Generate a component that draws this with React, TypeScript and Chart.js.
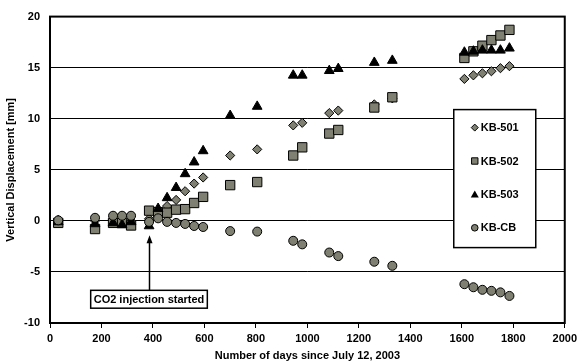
import React, { useEffect, useRef } from 'react';
import { Chart, registerables } from 'chart.js';

Chart.register(...registerables);

// Days since July 12, 2003
const days = [32, 175, 245, 280, 315, 385, 420, 455, 490, 525, 560, 595, 700, 805, 945, 980, 1085, 1120, 1260, 1330, 1610, 1645, 1680, 1715, 1750, 1785];
const kb501 = [0.1, 0.0, 0.1, 0.1, 0.0, 0.2, 0.6, 1.45, 2.05, 2.9, 3.65, 4.25, 6.4, 7.0, 9.35, 9.6, 10.55, 10.8, 11.4, 12.0, 13.9, 14.25, 14.45, 14.65, 14.95, 15.15];
const kb502 = [-0.2, -0.8, -0.2, -0.2, -0.45, 1.0, 0.85, 0.8, 1.1, 1.15, 1.75, 2.35, 3.5, 3.8, 6.4, 7.2, 8.55, 8.9, 11.1, 12.1, 15.95, 16.6, 17.15, 17.7, 18.15, 18.7];
const kb503 = [-0.1, -0.3, -0.2, -0.4, -0.1, -0.5, 1.2, 2.25, 3.25, 4.6, 5.75, 6.85, 10.3, 11.2, 14.25, 14.25, 14.7, 14.9, 15.5, 15.7, 16.5, 16.6, 16.7, 16.7, 16.7, 16.9];
const kbcb = [0.05, 0.3, 0.5, 0.5, 0.5, -0.1, 0.25, -0.1, -0.2, -0.3, -0.5, -0.6, -1.0, -1.05, -1.95, -2.3, -3.1, -3.45, -4.0, -4.4, -6.2, -6.5, -6.75, -6.85, -7.0, -7.35];

const seriesNames = ['KB-501', 'KB-502', 'KB-503', 'KB-CB'];
const injectionDay = 385;
const injectionLabel = 'CO2 injection started';
const xTitle = 'Number of days since July 12, 2003';
const yTitle = 'Vertical Displacement [mm]';

const GRAY = '#808072';
const FONT = "'Liberation Sans', Arial, sans-serif";

function drawMarker(ctx: CanvasRenderingContext2D, kind: string, x: number, y: number, r: number) {
  ctx.beginPath();
  if (kind === 'diamond') {
    ctx.moveTo(x, y - r); ctx.lineTo(x + r, y); ctx.lineTo(x, y + r); ctx.lineTo(x - r, y); ctx.closePath();
    ctx.fillStyle = GRAY; ctx.fill(); ctx.lineWidth = 1; ctx.strokeStyle = '#000'; ctx.stroke();
  } else if (kind === 'square') {
    ctx.rect(x - r, y - r, 2 * r, 2 * r);
    ctx.fillStyle = GRAY; ctx.fill(); ctx.lineWidth = 1; ctx.strokeStyle = '#000'; ctx.stroke();
  } else if (kind === 'triangle') {
    ctx.moveTo(x, y - r); ctx.lineTo(x + r, y + r * 0.8); ctx.lineTo(x - r, y + r * 0.8); ctx.closePath();
    ctx.fillStyle = '#000'; ctx.fill();
  } else {
    ctx.arc(x, y, r, 0, Math.PI * 2);
    ctx.fillStyle = GRAY; ctx.fill(); ctx.lineWidth = 1; ctx.strokeStyle = '#000'; ctx.stroke();
  }
}

const overlayPlugin = {
  id: 'overlay',
  beforeDatasetsDraw(chart: any) {
    const { ctx, chartArea: a } = chart;
    ctx.save();
    ctx.strokeStyle = '#000';
    ctx.lineWidth = 2;
    ctx.strokeRect(a.left, a.top, a.right - a.left, a.bottom - a.top);
    ctx.restore();
  },
  afterDatasetsDraw(chart: any) {
    const { ctx, chartArea: a, scales } = chart;
    ctx.save();
    // Legend box
    const lx = a.right - 111;
    const ly = a.top + 93;
    const lw = 82;
    const lh = 138;
    ctx.fillStyle = '#fff';
    ctx.fillRect(lx, ly, lw, lh);
    ctx.strokeStyle = '#000';
    ctx.lineWidth = 1.5;
    ctx.strokeRect(lx, ly, lw, lh);
    const kinds = ['diamond', 'square', 'triangle', 'circle'];
    const sizes = [3.5, 3.2, 4, 3.3];
    ctx.font = `bold 11px ${FONT}`;
    ctx.textBaseline = 'middle';
    ctx.textAlign = 'left';
    seriesNames.forEach((name, i) => {
      const cy = ly + 18 + i * 33.4;
      drawMarker(ctx, kinds[i], lx + 21, cy, sizes[i]);
      ctx.fillStyle = '#000';
      ctx.fillText(name, lx + 27, cy + 0.5);
    });

    // Annotation arrow + box
    const ax = Math.round(scales.x.getPixelForValue(injectionDay)) + 0.5;
    const tipY = scales.y.getPixelForValue(-1.4);
    const boxTop = scales.y.getPixelForValue(-6.8);
    const boxBot = scales.y.getPixelForValue(-8.55);
    ctx.strokeStyle = '#000';
    ctx.lineWidth = 1.5;
    ctx.beginPath();
    ctx.moveTo(ax, boxTop);
    ctx.lineTo(ax, tipY + 4);
    ctx.stroke();
    ctx.beginPath();
    ctx.moveTo(ax, tipY);
    ctx.lineTo(ax + 3, tipY + 8);
    ctx.lineTo(ax - 3, tipY + 8);
    ctx.closePath();
    ctx.fillStyle = '#000';
    ctx.fill();
    ctx.font = `bold 11px ${FONT}`;
    const tw = ctx.measureText(injectionLabel).width;
    const bw = tw + 6;
    const bx = ax - 0.5 - bw / 2;
    ctx.fillStyle = '#fff';
    ctx.fillRect(bx, boxTop, bw, boxBot - boxTop);
    ctx.lineWidth = 1.5;
    ctx.strokeRect(bx, boxTop, bw, boxBot - boxTop);
    ctx.fillStyle = '#000';
    ctx.textAlign = 'center';
    ctx.textBaseline = 'middle';
    ctx.fillText(injectionLabel, ax - 0.5, (boxTop + boxBot) / 2 + 0.5);
    ctx.restore();
  },
};

export default function App() {
  const ref = useRef<HTMLCanvasElement | null>(null);
  useEffect(() => {
    document.body.style.margin = '0';
    const canvas = ref.current;
    if (!canvas) return;
    const toPts = (vals: number[]) => days.map((d, i) => ({ x: d, y: vals[i] }));
    const chart = new Chart(canvas, {
      type: 'scatter',
      data: {
        datasets: [
          { label: seriesNames[0], data: toPts(kb501), pointStyle: 'rectRot', pointRadius: 4.6, backgroundColor: GRAY, borderColor: '#000', borderWidth: 1, order: 4 },
          { label: seriesNames[1], data: toPts(kb502), pointStyle: 'rect', pointRadius: 6.6, backgroundColor: GRAY, borderColor: '#000', borderWidth: 1, order: 3 },
          { label: seriesNames[2], data: toPts(kb503), pointStyle: 'triangle', pointRadius: 5.6, backgroundColor: '#000', borderColor: '#000', borderWidth: 1, order: 2 },
          { label: seriesNames[3], data: toPts(kbcb), pointStyle: 'circle', pointRadius: 4.5, backgroundColor: GRAY, borderColor: '#000', borderWidth: 1, order: 1 },
        ] as any,
      },
      options: {
        responsive: false,
        animation: false,
        events: [],
        layout: { padding: { left: 0, top: 16, right: 13, bottom: 0 } },
        plugins: { legend: { display: false }, tooltip: { enabled: false } },
        scales: {
          x: {
            type: 'linear',
            min: 0,
            max: 2000,
            afterFit: (s: any) => { s.height = 40; },
            ticks: { stepSize: 200, color: '#000', font: { family: FONT, size: 11, weight: 'bold' }, maxRotation: 0, padding: 4, callback: (v: any) => String(v) },
            grid: { drawOnChartArea: false, drawTicks: true, tickLength: 5, color: '#000', lineWidth: 1 },
            border: { display: true, color: '#000', width: 2 },
            title: { display: true, text: xTitle, color: '#000', font: { family: FONT, size: 11, weight: 'bold' }, padding: { top: 0, bottom: 0 } },
          },
          y: {
            type: 'linear',
            min: -10,
            max: 20,
            afterFit: (s: any) => { s.width = 50; },
            ticks: { stepSize: 5, color: '#000', font: { family: FONT, size: 11, weight: 'bold' }, padding: 10, callback: (v: any) => String(v) },
            grid: { drawTicks: false, color: '#000', lineWidth: 1 },
            border: { display: true, color: '#000', width: 2 },
            title: { display: true, text: yTitle, color: '#000', font: { family: FONT, size: 11, weight: 'bold' }, padding: { top: 4, bottom: 0 } },
          },
        },
      } as any,
      plugins: [overlayPlugin],
    });
    return () => chart.destroy();
  }, []);
  return (
    <div style={{ width: 581, height: 363 }}>
      <canvas ref={ref} width={581} height={363} style={{ width: 581, height: 363, display: 'block' }} />
    </div>
  );
}
